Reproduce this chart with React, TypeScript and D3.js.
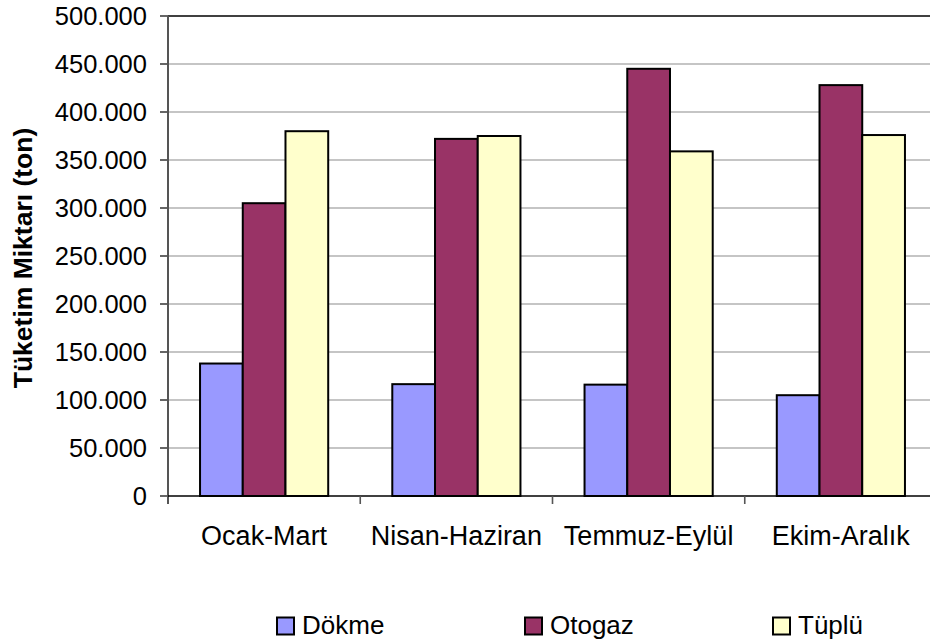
import React from "react";
import * as d3 from "d3";

const categories = ["Ocak-Mart", "Nisan-Haziran", "Temmuz-Eylül", "Ekim-Aralık"];
const seriesNames = ["Dökme", "Otogaz", "Tüplü"];
const dokme = [138000, 116500, 116000, 105000];
const otogaz = [305000, 372000, 445000, 428000];
const tuplu = [380000, 375000, 359000, 376000];
const yTicks = [0, 50000, 100000, 150000, 200000, 250000, 300000, 350000, 400000, 450000, 500000];
const colors = ["#9999FF", "#993366", "#FFFFCC"];

const W = 930, H = 644;
const left = 168, top = 16, bottom = 496, right = 937;

export default function App() {
  const series = [dokme, otogaz, tuplu];
  const y = d3.scaleLinear().domain([0, 500000]).range([bottom, top]);
  const x = d3.scaleBand().domain(categories).range([left, right]).padding(0);
  const band = x.bandwidth();
  const barW = band / 4.5;
  const fmt = (v: number) => (v === 0 ? "0" : d3.format(",")(v).replace(/,/g, "."));
  const font = "'Liberation Sans', Arial, sans-serif";
  const legendX = [277, 525, 773];

  return (
    <svg width={W} height={H} style={{ position: "absolute", left: 0, top: 0, background: "#fff" }} fontFamily={font}>
      <rect x={0} y={0} width={W} height={H} fill="#fff" />
      {yTicks.map((t) => (
        <g key={t}>
          {t > 0 && t < 500000 && (
            <line x1={left} x2={right} y1={y(t)} y2={y(t)} stroke="#8c8c8c" strokeWidth={1.2} />
          )}
          <line x1={left - 8} x2={left} y1={y(t)} y2={y(t)} stroke="#000" strokeWidth={1.2} />
          <text x={147} y={y(t)} dy="0.36em" textAnchor="end" fontSize={25.5} fill="#000">
            {fmt(t)}
          </text>
        </g>
      ))}
      <line x1={left} x2={right} y1={top} y2={top} stroke="#000" strokeWidth={1.6} />
      {categories.map((c, ci) =>
        series.map((s, si) => {
          const bx = (x(c) as number) + 0.75 * barW + si * barW;
          return (
            <rect
              key={c + si}
              x={bx}
              y={y(s[ci])}
              width={barW}
              height={bottom - y(s[ci])}
              fill={colors[si]}
              stroke="#000"
              strokeWidth={2}
            />
          );
        })
      )}
      <line x1={left} x2={left} y1={top} y2={bottom + 8} stroke="#555" strokeWidth={2} />
      <line x1={left} x2={right} y1={bottom} y2={bottom} stroke="#000" strokeWidth={1.6} />
      {categories.map((c, ci) => (
        <g key={c}>
          {ci > 0 && (
            <line x1={x(c) as number} x2={x(c) as number} y1={bottom} y2={bottom + 8} stroke="#555" strokeWidth={1.6} />
          )}
          <text x={(x(c) as number) + band / 2} y={544.5} textAnchor="middle" fontSize={27} fill="#000">
            {c}
          </text>
        </g>
      ))}
      <text
        transform={`translate(32,${258}) rotate(-90)`}
        textAnchor="middle"
        fontSize={26.5}
        fontWeight="bold"
        fill="#000"
      >
        Tüketim Miktarı (ton)
      </text>
      {seriesNames.map((n, i) => (
        <g key={n}>
          <rect x={legendX[i]} y={617.5} width={17} height={17} fill={colors[i]} stroke="#000" strokeWidth={2} />
          <text x={legendX[i] + 25} y={633.5} fontSize={26} fill="#000">
            {n}
          </text>
        </g>
      ))}
    </svg>
  );
}
